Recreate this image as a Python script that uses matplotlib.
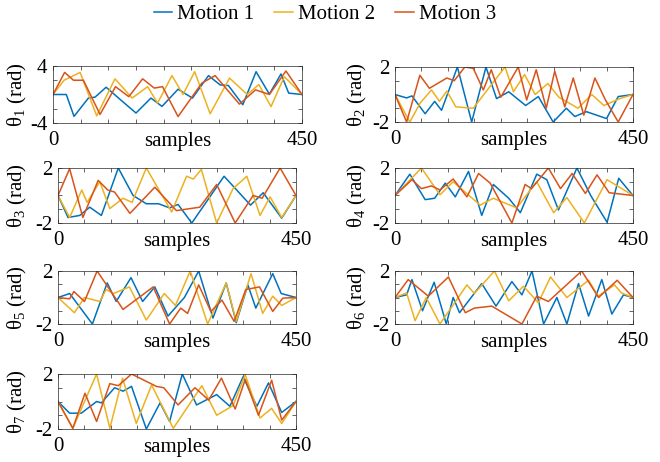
import numpy as np
import matplotlib
matplotlib.use('Agg')
import matplotlib.pyplot as plt

plt.rcParams['font.family'] = ['Liberation Serif', 'DejaVu Serif']
plt.rcParams['mathtext.fontset'] = 'custom'
plt.rcParams['mathtext.rm'] = 'Liberation Serif'
plt.rcParams['mathtext.it'] = 'Liberation Serif:italic'

MOTION_NAMES = ['Motion 1', 'Motion 2', 'Motion 3']
MOTION_COLORS = ['#0072BD', '#EDB120', '#D95319']
X_MAX = 450

# key points: (sample, angle in rad)
# theta 1
t1_m1_x = [0, 24, 38, 64, 76, 96, 122, 150, 177, 197, 226, 252, 281, 302, 317, 343, 367, 391, 412, 426, 450]
t1_m1_y = [0, 0, -3.07, -0.5, -0.37, 1.02, -0.74, -2.6, -0.5, -1.67, 0.74, -0.5, 2.65, 1.35, 1.26, -1.44, 3.2, 0.05, 2.88, 0.19, 0]
t1_m2_x = [0, 20, 49, 79, 112, 143, 171, 189, 215, 235, 256, 284, 319, 351, 372, 394, 418, 450]
t1_m2_y = [0, 2.0, 3.1, -3.0, 2.2, -0.5, 1.1, -1.2, 2.65, 0, 3.2, -2.7, 2.3, 0, 1.4, -1.7, 2.5, 0]
t1_m3_x = [0, 21, 37, 55, 85, 113, 137, 162, 183, 198, 226, 269, 293, 337, 366, 391, 421, 450]
t1_m3_y = [0, 3.1, 2.0, 2.0, -2.8, 1.1, -0.3, 2.2, 0.9, 1.1, -3.1, 1.6, 2.65, -1.35, 0.65, 0, 3.3, 0]

# theta 2
t2_m1_x = [0, 22, 32, 57, 75, 88, 118, 145, 172, 192, 215, 247, 271, 299, 324, 340, 362, 400, 422, 450]
t2_m1_y = [0, -0.25, -0.1, -1.4, -0.5, -1.15, 2.0, -2.0, 2.0, -0.3, 0.2, -0.8, -0.15, -2.0, -1.0, -1.6, -1.25, -1.75, -0.15, 0]
t2_m2_x = [0, 28, 48, 69, 84, 98, 115, 148, 208, 224, 245, 265, 289, 310, 346, 372, 395, 425, 450]
t2_m2_y = [0, -2.0, -0.6, 0.33, -0.5, 0.25, -0.9, -1.0, 2.0, 0.2, 1.45, 0.0, 0.8, -0.2, -1.0, 0.0, -0.8, -0.3, 0]
t2_m3_x = [0, 22, 47, 65, 98, 112, 132, 148, 167, 182, 200, 233, 249, 267, 286, 302, 321, 337, 357, 378, 398, 422, 450]
t2_m3_y = [0, -2.0, 1.4, 0.45, 1.2, 1.0, 2.0, 1.9, 0.33, 1.8, -0.2, 2.0, -0.4, 1.8, -1.0, 1.7, -0.9, 1.2, -1.5, 1.2, -0.4, -2.0, 0]

# theta 3
t3_m1_x = [0, 19, 41, 60, 82, 114, 142, 167, 190, 211, 227, 253, 314, 364, 388, 423, 450]
t3_m1_y = [0, -1.6, -1.45, -0.85, -1.45, 2.0, 0, -0.6, -0.6, -0.9, -0.65, -2.0, 1.4, -0.7, 0.2, -1.65, 0]
t3_m2_x = [0, 22, 45, 55, 79, 98, 123, 140, 167, 215, 243, 256, 271, 300, 331, 357, 382, 401, 423, 450]
t3_m2_y = [0, -1.6, 0.4, -0.5, 1.0, -0.95, -0.2, -0.5, 2.0, -1.2, 1.4, 1.2, 1.9, -2.0, 0.5, 1.4, -1.45, -0.1, -1.6, 0]
t3_m3_x = [0, 22, 47, 76, 94, 107, 136, 183, 224, 268, 300, 335, 369, 386, 420, 450]
t3_m3_y = [0, 1.95, -1.6, 1.1, 0.4, 0.25, -1.3, 0.6, -1.1, -0.85, 0.8, -2.0, 0, -0.2, 2.0, 0]

# theta 4
t4_m1_x = [0, 28, 57, 75, 95, 114, 139, 164, 186, 215, 237, 268, 287, 309, 344, 370, 401, 423, 450]
t4_m1_y = [0, 1.55, -0.3, -0.2, 0.9, -0.1, 1.75, -1.45, 0.8, -0.2, -1.25, 1.55, 1.15, -1.05, 2.0, 0.0, -1.95, 1.25, 0]
t4_m2_x = [0, 50, 85, 110, 161, 186, 230, 268, 300, 325, 358, 401, 450]
t4_m2_y = [0, 2.0, 0.05, 1.0, -0.7, -0.2, -0.9, 1.0, -1.25, -0.15, -2.0, 1.15, 0]
t4_m3_x = [0, 32, 50, 69, 85, 110, 136, 158, 180, 221, 246, 258, 290, 313, 335, 360, 382, 405, 450]
t4_m3_y = [0, 1.15, 0.5, 0.7, 0.4, 1.2, -0.1, 1.6, 0.9, -2.0, 0.8, 0.5, 2.0, 0.5, 1.6, 0.15, 1.5, 0.2, 0]

# theta 5
t5_m1_x = [0, 22, 65, 93, 110, 138, 160, 183, 208, 239, 266, 293, 318, 337, 359, 374, 406, 422, 450]
t5_m1_y = [0, 0.3, -2.0, 1.1, -0.3, 1.5, -0.3, 0.8, -1.4, 0, 2.0, -1.55, 1.1, -1.9, 0.95, -0.8, 1.8, 0.3, 0]
t5_m2_x = [0, 31, 50, 79, 91, 105, 135, 167, 201, 222, 250, 283, 318, 337, 365, 387, 406, 423, 450]
t5_m2_y = [0, -1.15, 0, -0.3, 0.6, 0.3, 0.8, -1.7, 0.3, -0.6, 2.0, -2.0, 1.1, -1.8, 1.8, -1.2, 0.1, -0.6, 0]
t5_m3_x = [0, 22, 30, 50, 74, 123, 180, 211, 232, 245, 266, 289, 310, 333, 355, 381, 406, 425, 450]
t5_m3_y = [0, -0.1, 0.45, -0.3, 2.0, -0.9, 0.8, -2.0, -0.8, -1.2, 0.95, -1.05, -0.2, -1.8, 0.6, 0.8, -1.05, -0.05, 0]

# theta 6
t6_m1_x = [0, 22, 32, 52, 74, 97, 110, 122, 164, 191, 221, 240, 259, 281, 306, 325, 347, 366, 391, 410, 432, 450]
t6_m1_y = [0, 0.2, 1.35, -1.0, 1.15, -2.0, 0, -1.15, 1.05, -0.65, 1.2, 0.2, 2.0, -2.0, 0, -2.0, 1.05, -1.4, 1.35, -1.25, 0.2, 0]
t6_m2_x = [0, 22, 38, 59, 85, 136, 150, 188, 215, 243, 271, 294, 325, 366, 384, 415, 428, 450]
t6_m2_y = [0, 0.35, -1.75, 0, -2.0, 0.95, 0.3, 2.0, -0.25, 0.85, -0.4, 1.55, 0, 1.3, 0.1, 0.95, 0.35, 0]
t6_m3_x = [0, 25, 63, 101, 133, 150, 183, 240, 268, 290, 353, 385, 420, 450]
t6_m3_y = [0, 1.35, 0.1, 1.55, -1.15, -0.8, -0.65, -2.0, 0.1, -0.3, 2.0, 0, 1.3, 0]

# theta 7
t7_m1_x = [0, 22, 44, 73, 82, 107, 123, 139, 167, 193, 211, 235, 262, 300, 325, 350, 376, 398, 423, 450]
t7_m1_y = [0, -0.85, -0.85, 0, -0.1, 1.0, 0.75, 1.1, -2.0, -0.1, -1.45, 2.0, -0.25, 0.5, -0.35, 1.8, -0.35, 1.35, -0.8, 0]
t7_m2_x = [0, 28, 73, 98, 122, 148, 177, 218, 272, 300, 331, 354, 382, 404, 423, 450]
t7_m2_y = [0, -1.95, 2.0, -1.95, 1.7, -1.6, 1.2, -1.95, 1.15, -1.0, -0.3, 1.95, -1.2, -0.5, -1.6, 0]
t7_m3_x = [0, 28, 51, 73, 98, 114, 139, 186, 200, 227, 259, 285, 309, 335, 354, 379, 404, 423, 450]
t7_m3_y = [0, -1.95, 0.6, -1.45, 1.3, 1.15, 2.0, 1.1, 1.0, -0.25, 1.0, 0.1, 1.7, -0.55, 1.6, -1.0, 1.55, -1.35, 0]

JOINTS = [
    (1, 4, [(t1_m1_x, t1_m1_y), (t1_m2_x, t1_m2_y), (t1_m3_x, t1_m3_y)]),
    (2, 2, [(t2_m1_x, t2_m1_y), (t2_m2_x, t2_m2_y), (t2_m3_x, t2_m3_y)]),
    (3, 2, [(t3_m1_x, t3_m1_y), (t3_m2_x, t3_m2_y), (t3_m3_x, t3_m3_y)]),
    (4, 2, [(t4_m1_x, t4_m1_y), (t4_m2_x, t4_m2_y), (t4_m3_x, t4_m3_y)]),
    (5, 2, [(t5_m1_x, t5_m1_y), (t5_m2_x, t5_m2_y), (t5_m3_x, t5_m3_y)]),
    (6, 2, [(t6_m1_x, t6_m1_y), (t6_m2_x, t6_m2_y), (t6_m3_x, t6_m3_y)]),
    (7, 2, [(t7_m1_x, t7_m1_y), (t7_m2_x, t7_m2_y), (t7_m3_x, t7_m3_y)]),
]

# axes boxes in pixels (left, top, right, bottom) of a 660x462 canvas
BOXES = [
    (53, 66, 302, 123), (395, 67, 633, 122),
    (58, 168, 296, 223), (395, 168, 633, 223),
    (58, 271, 296, 324), (395, 271, 633, 324),
    (58, 374, 296, 429),
]
# x of the y-label centre, left column / right column
YLABEL_X = [17, 357]

W, H = 660, 462
fig = plt.figure(figsize=(W / 100, H / 100), dpi=100)
FS = 15
AX_COLOR = '#262626'

handles = []
for i, ((joint, lim, curves), (l, t, r, b)) in enumerate(zip(JOINTS, BOXES)):
    ax = fig.add_axes([l / W, 1 - b / H, (r - l) / W, (b - t) / H])
    for k, (xs, ys) in enumerate(curves):
        line, = ax.plot(xs, ys, color=MOTION_COLORS[k], lw=1.1,
                        label=MOTION_NAMES[k])
        if joint == 1:
            handles.append(line)
    ax.set_xlim(0, X_MAX)
    ax.set_ylim(-lim, lim)
    ax.set_xticks(np.arange(0, X_MAX + 1, 50))
    ax.set_xticklabels(['0'] + [''] * 8 + ['450'])
    ax.set_yticks(np.linspace(-lim, lim, 5))
    ax.set_yticklabels([str(-lim), '', '', '', str(lim)])
    ax.tick_params(direction='in', length=3, width=0.5, top=True, right=True,
                   labelsize=FS, colors=AX_COLOR, labelcolor='black', pad=4)
    ax.tick_params(axis='x', pad=6)
    for s in ax.spines.values():
        s.set_linewidth(0.5)
        s.set_color(AX_COLOR)
    ax.set_xlabel('samples', fontsize=FS, labelpad=-13)
    ax.set_ylabel(r'θ$_{%d}$ (rad)' % joint, fontsize=FS, va='center')
    ax.yaxis.set_label_coords((YLABEL_X[i % 2] - l) / (r - l), 0.5)

fig.legend(handles=handles, loc='center', bbox_to_anchor=(325 / W, 1 - 14 / H),
           ncol=3, frameon=False, fontsize=FS, handlelength=0.9,
           handletextpad=0.25, columnspacing=0.95, borderpad=0)

fig.savefig('out.png', dpi=100)
